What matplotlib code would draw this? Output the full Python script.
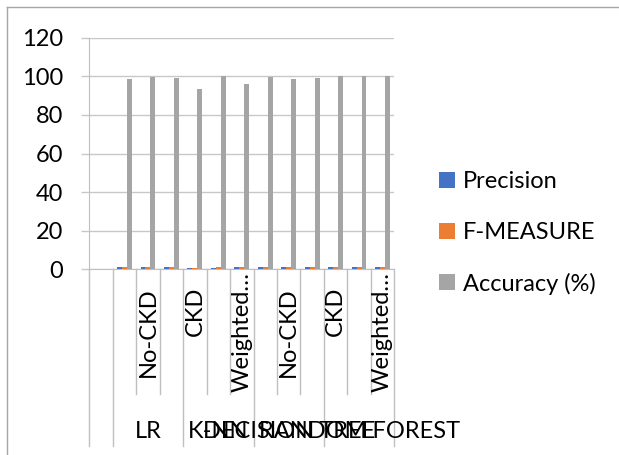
import matplotlib
matplotlib.use("Agg")
import matplotlib.pyplot as plt
from matplotlib.lines import Line2D
from matplotlib.patches import Patch
import matplotlib.transforms as mtransforms
import numpy as np

plt.rcParams['font.family'] = ['Lato', 'DejaVu Sans']

# ---- data ----
sub_labels = ['', 'CKD', 'No-CKD', 'Weighted…', 'CKD', 'No-CKD', 'Weighted…',
              'CKD', 'No-CKD', 'Weighted…', 'CKD', 'No-CKD', 'Weighted…']
group_labels = ['', 'LR', 'K-NN', 'DECISION TREE', 'RANDOM FOREST']
group_sizes = [1, 3, 3, 3, 3]
precision = [np.nan, 0.98, 0.99, 0.98, 0.93, 0.5, 0.96, 1.0, 0.98, 0.99, 1.0, 1.0, 1.0]
f_measure = [np.nan, 0.98, 0.99, 0.98, 0.93, 1.0, 0.96, 1.0, 0.98, 0.99, 1.0, 1.0, 1.0]
accuracy = [np.nan, 98.4, 99.7, 99.0, 93.3, 100, 96.0, 99.8, 98.4, 99.3, 100, 100, 100]
series_names = ['Precision', 'F-MEASURE', 'Accuracy (%)']
colors = ['#4472C4', '#ED7D31', '#A5A5A5']
yticks = [0, 20, 40, 60, 80, 100, 120]

W, H = 619, 455
fig = plt.figure(figsize=(W / 100, H / 100), dpi=100)

def fx(px):
    return px / W

def fy(py):
    return 1 - py / H

ax = fig.add_axes([fx(89.3), fy(269.3), fx(394.3) - fx(89.3), fy(37.7) - fy(269.3)])

n = len(sub_labels)
x = np.arange(n)
bw = 0.21
for k, (vals, c) in enumerate(zip([precision, f_measure, accuracy], colors)):
    ax.bar(x + (k - 1) * bw, vals, width=bw, color=c, label=series_names[k], zorder=3)

ax.set_xlim(-0.5, n - 0.5)
ax.set_ylim(0, 120)
ax.set_yticks(yticks)
ax.set_yticklabels([str(v) for v in yticks], fontsize=17)
ax.tick_params(axis='y', length=6, width=1, color='#C8C8C8', pad=13, direction='out')
ax.set_xticks([])
ax.grid(axis='y', color='#C8C8C8', linewidth=1, zorder=0)
for s in ['top', 'right']:
    ax.spines[s].set_visible(False)
ax.spines['left'].set_color('#BFBFBF')
ax.spines['bottom'].set_color('#BFBFBF')

# ---- multi-level category axis ----
trans = mtransforms.blended_transform_factory(ax.transData, fig.transFigure)
y_axis = fy(269.3)
y_short = fy(394)
y_long = fy(445.7)
bounds_long = set(np.cumsum([0] + group_sizes) - 0.5)
for b in np.arange(-0.5, n, 1.0):
    yb = y_long if b in bounds_long else y_short
    fig.add_artist(Line2D([b, b], [y_axis, yb], transform=trans, color='#BFBFBF', lw=1))

band_top = 270
band_bot = 394
for i in range(2, n, 2):
    t = fig.text(i, fy(287), sub_labels[i], transform=trans, rotation=90,
                 ha='center', va='top', fontsize=17)
    if len(sub_labels[i]) > 7:
        t.set_va('center')
        t.set_y(fy((band_top + band_bot) / 2))

start = 0
for lab, sz in zip(group_labels, group_sizes):
    cx = start + (sz - 1) / 2
    fig.text(cx, fy(431), lab, transform=trans, ha='center', va='center', fontsize=17)
    start += sz

# ---- chart border (top and left visible) ----
fig.add_artist(Line2D([fx(6.7), 1], [fy(7), fy(7)], transform=fig.transFigure, color='#A6A6A6', lw=1))
fig.add_artist(Line2D([fx(6.7), fx(6.7)], [fy(7), 0], transform=fig.transFigure, color='#A6A6A6', lw=1))

# ---- legend ----
handles = [Patch(facecolor=c, edgecolor='none') for c in colors]
fig.legend(handles, series_names, loc='center left',
           bbox_to_anchor=(fx(430), fy(233)), frameon=False, fontsize=17,
           handlelength=0.65, handleheight=0.65, handletextpad=0.35,
           labelspacing=1.25, borderaxespad=0)

fig.savefig('out.png', dpi=100)
